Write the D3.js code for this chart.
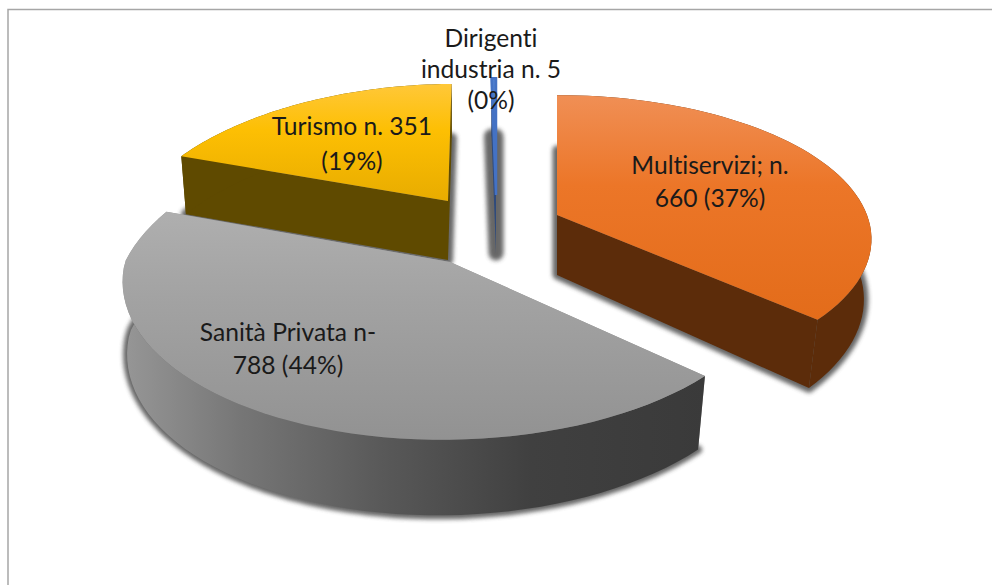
<!DOCTYPE html>
<html><head><meta charset="utf-8">
<script src="https://cdn.jsdelivr.net/npm/d3@7"></script>
<style>html,body{margin:0;background:#fff}svg{display:block}text{font-family:Lato,"Open Sans",sans-serif;font-size:24.6px;fill:#1a1a1a;text-anchor:middle;font-variant-ligatures:none}</style>
</head><body><svg id="c" width="992" height="585"></svg>
<script>
const categories = ["Multiservizi","Sanità Privata","Turismo","Dirigenti industria"];
const values = [660,788,351,5];
const labelLines = [["Multiservizi; n.","660 (37%)"],["Sanità Privata n-","788 (44%)"],["Turismo n. 351","(19%)"],["Dirigenti","industria n. 5","(0%)"]];
const topColors = [["#F08F55","#EC7628","#E36C1A"],["#AFAFAF","#A2A2A2","#929292"],["#FFC83A","#FDBF03","#E8AC00"],["#4F7FCF","#4472C4","#3A62A8"]];
const wallColors = ["#5C2C0A","#8f8f8f","#5F4A00","#2E4A7C"];

// perspective frames per slice: top face and bottom face (apex, radii, foreshortening, shear behind/in front of apex)
const frames = [
 {t:{cx:557,cy:215,R:310,S:140,k:.168,hb:0,hf:0},b:{cx:557,cy:275,R:303,S:148.6,k:.189,hb:0,hf:9},shadow:9,lab:[710,174]},
 {t:{cx:450,cy:262,R:325,S:160,k:.1,hb:45,hf:7},b:{cx:450,cy:332,R:320,S:165,k:.1,hb:45,hf:11},shadow:8,lab:[288,341]},
 {t:{cx:448,cy:201,R:312,S:151,k:.29,hb:10,hf:0},b:{cx:448,cy:260,R:303,S:152.5,k:.25,hb:10,hf:0},shadow:10,lab:[352,135]},
 {t:{cx:496,cy:195,R:310,S:140,k:.2,hb:0,hf:0},b:{cx:496,cy:253,R:310,S:140,k:.2,hb:0,hf:0},shadow:15,lab:[491,47]}
];
const labelY = [174,341,135,47], lineH=[33,33,35,31];

const svg = d3.select("#c");
const defs = svg.append("defs");
const blur = defs.append("filter").attr("id","blur").attr("filterUnits","userSpaceOnUse").attr("x",0).attr("y",0).attr("width",992).attr("height",585);
blur.append("feGaussianBlur").attr("stdDeviation",2.2);

const pie = d3.pie().value(d=>d).sort(null);
const arcs = pie(values);

// frame: border (top and left edges only)
svg.append("path").attr("d","M8,585V9.5H992").attr("fill","none").attr("stroke","#a6a6a6").attr("stroke-width",1.5);

const proj = f => a => { const X=Math.sin(a),Y=Math.cos(a),w=1+f.k*Y; const h=(Y>0?f.hb:f.hf)*Y; return [f.cx+(f.R*X+h)/w, f.cy-f.S*Y/w]; };
const line = d3.line();
const rim = (f,a0,a1) => d3.range(0,61).map(i=>proj(f)(a0+(a1-a0)*i/60));

// top-face gradients
topColors.forEach((c,i)=>{
  const ys = i==0?[95,320]:i==1?[210,440]:i==2?[83,201]:[78,195];
  const g = defs.append("linearGradient").attr("id","top"+i).attr("gradientUnits","userSpaceOnUse").attr("x1",0).attr("x2",0).attr("y1",ys[0]).attr("y2",ys[1]);
  g.append("stop").attr("offset",0).attr("stop-color",c[0]);
  g.append("stop").attr("offset",.4).attr("stop-color",c[1]);
  g.append("stop").attr("offset",1).attr("stop-color",c[2]);
});
// Sanità outer wall shading
const wg = defs.append("linearGradient").attr("id","wall1").attr("gradientUnits","userSpaceOnUse").attr("x1",125).attr("x2",706).attr("y1",0).attr("y2",0);
[[0,"#969696"],[.2,"#767676"],[.45,"#585858"],[.7,"#404040"],[1,"#3a3a3a"]].forEach(s=>wg.append("stop").attr("offset",s[0]).attr("stop-color",s[1]));

// paint back slices first, front slice last
[3,0,2,1].forEach(i=>{
  const d=arcs[i], f=frames[i], a0=d.startAngle, a1=d.endAngle;
  const g=svg.append("g").attr("class","slice");
  const tr=rim(f.t,a0,a1), br=rim(f.b,a0,a1);
  const tA=[f.t.cx,f.t.cy], bA=[f.b.cx,f.b.cy];
  const wallFill = i==1?"url(#wall1)":wallColors[i];
  // soft shadow under the slice
  g.append("path").attr("d",line([bA,...br])+"Z").attr("fill","#4d4d4d").attr("stroke","#4d4d4d").attr("stroke-width",f.shadow).attr("stroke-linejoin","round").attr("filter","url(#blur)").attr("opacity",.85);
  // radial cut faces
  [[tA,tr[0],br[0],bA],[tA,tr[60],br[60],bA]].forEach(q=>g.append("path").attr("d",line(q)+"Z").attr("fill",wallColors[i]));
  // outer wall
  g.append("path").attr("d",line([...tr,...br.slice().reverse()])+"Z").attr("fill",wallFill);
  // top face
  g.append("path").attr("d",line([tA,...tr])+"Z").attr("fill","url(#top"+i+")").attr("stroke",i==3?topColors[3][1]:"none").attr("stroke-width",i==3?2.5:0);
});

// labels
labelLines.forEach((lines,i)=>{
  const t=svg.append("text").attr("x",frames[i].lab[0]).attr("y",labelY[i]);
  lines.forEach((s,j)=>t.append("tspan").attr("x",frames[i].lab[0]).attr("y",labelY[i]+j*lineH[i]).text(s));
});
</script></body></html>
